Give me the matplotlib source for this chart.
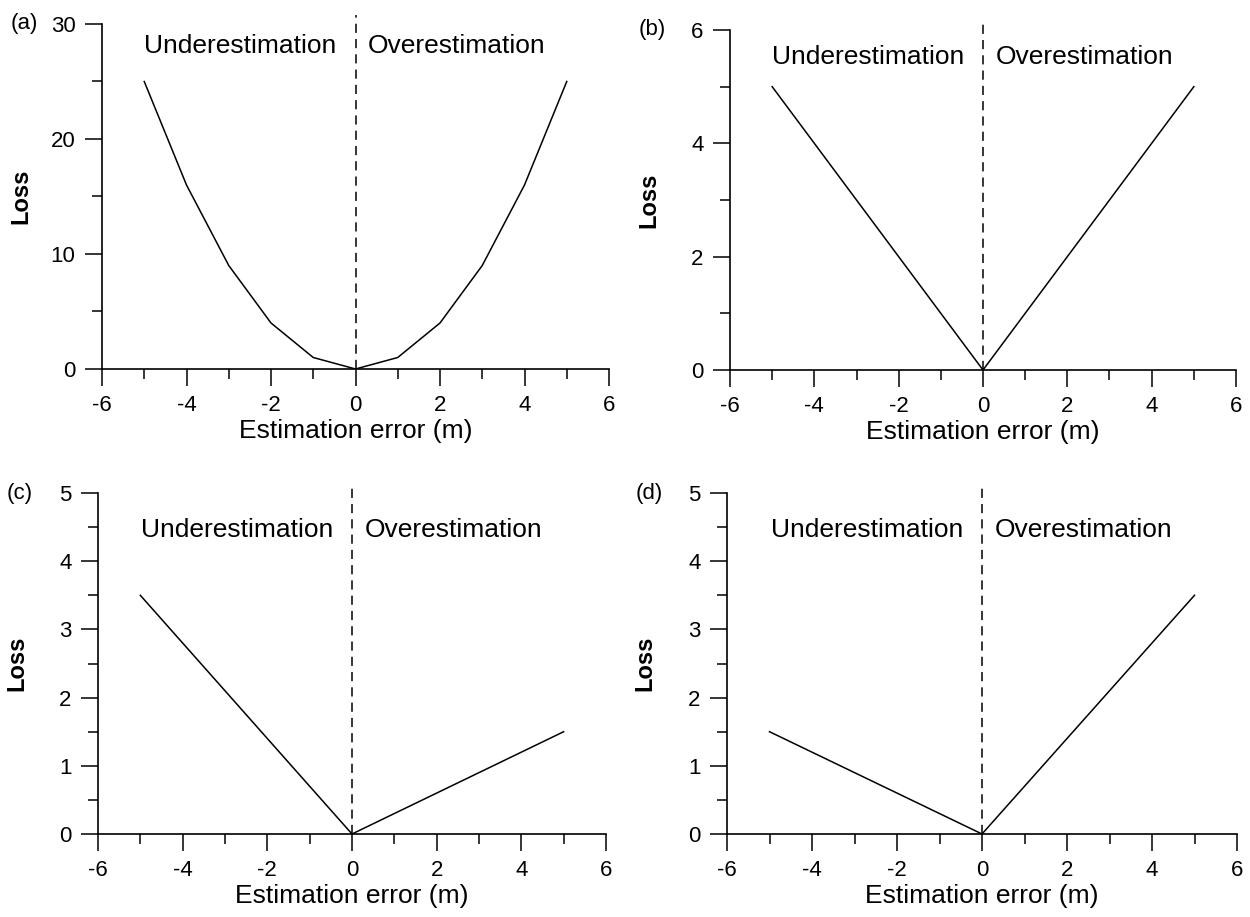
import matplotlib
matplotlib.use("Agg")
import matplotlib.pyplot as plt
import matplotlib.transforms as mtransforms
from matplotlib.ticker import MultipleLocator

plt.rcParams['font.family'] = ['Liberation Sans', 'DejaVu Sans']
plt.rcParams['axes.unicode_minus'] = False

# estimation error (m) and loss for each panel
err = [-5, -4, -3, -2, -1, 0, 1, 2, 3, 4, 5]
loss_a = [25, 16, 9, 4, 1, 0, 1, 4, 9, 16, 25]
loss_b = [5, 4, 3, 2, 1, 0, 1, 2, 3, 4, 5]
loss_c = [3.5, 2.8, 2.1, 1.4, 0.7, 0, 0.3, 0.6, 0.9, 1.2, 1.5]
loss_d = [1.5, 1.2, 0.9, 0.6, 0.3, 0, 0.7, 1.4, 2.1, 2.8, 3.5]

panels = ['(a)', '(b)', '(c)', '(d)']
ymax = [30, 6, 5, 5]
ymajor = [10, 2, 1, 1]
yminor = [5, 1, 0.5, 0.5]

W, H = 1250, 917
fig = plt.figure(figsize=(W / 100, H / 100), dpi=100)

# axes boxes in pixels: left, right, top, bottom
boxes = [(102, 609, 24, 369), (730, 1236, 30, 370),
         (98, 606, 493, 834), (727, 1237, 493, 834)]
text_y = [0.915, 0.9, 0.87, 0.87]

for i, loss in enumerate([loss_a, loss_b, loss_c, loss_d]):
    l, r, t, b = boxes[i]
    ax = fig.add_axes([l / W, 1 - b / H, (r - l) / W, (b - t) / H])

    ax.plot(err, loss, color='black', lw=1.1)
    ax.axvline(0, ymin=0, ymax=1.025, color='black', lw=1.1,
               dashes=(6, 4), clip_on=False)

    ax.set_xlim(-6, 6)
    ax.set_ylim(0, ymax[i])
    ax.xaxis.set_major_locator(MultipleLocator(2))
    ax.xaxis.set_minor_locator(MultipleLocator(1))
    ax.yaxis.set_major_locator(MultipleLocator(ymajor[i]))
    ax.yaxis.set_minor_locator(MultipleLocator(yminor[i]))

    for s in ['top', 'right']:
        ax.spines[s].set_visible(False)
    for s in ['left', 'bottom']:
        ax.spines[s].set_linewidth(1.2)

    ax.tick_params(which='major', direction='out', length=12, width=1.1,
                   labelsize=16, pad=7)
    ax.tick_params(which='minor', direction='out', length=7, width=1.1)

    ax.set_xlabel('Estimation error (m)', fontsize=19, labelpad=2)
    ax.set_ylabel('Loss', fontsize=17, fontweight='bold')
    ax.yaxis.set_label_coords(-0.138, 0.5)

    trans = mtransforms.blended_transform_factory(ax.transData, ax.transAxes)
    ax.text(-0.45, text_y[i], 'Underestimation', transform=trans,
            ha='right', va='baseline', fontsize=19)
    ax.text(0.3, text_y[i], 'Overestimation', transform=trans,
            ha='left', va='baseline', fontsize=19)

    ax.text(-0.18, 1.0, panels[i], transform=ax.transAxes,
            ha='left', va='center', fontsize=16)

fig.savefig('out.png', dpi=100)
